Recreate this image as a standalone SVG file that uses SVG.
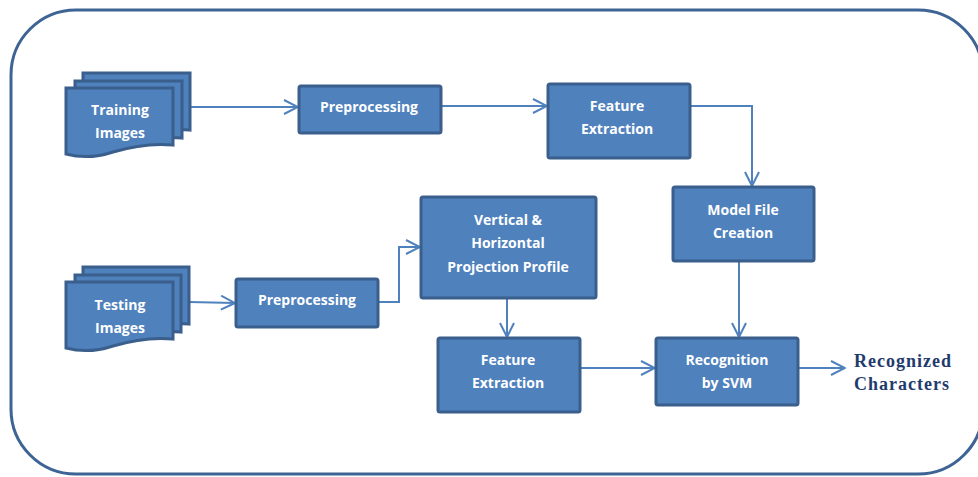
<svg xmlns="http://www.w3.org/2000/svg" width="978" height="477" viewBox="0 0 978 477">
<style>
.box{fill:#4f81bd;stroke:#3a5f8c;stroke-width:3}
.lbl{fill:#ffffff;font-family:"Open Sans","Liberation Sans",sans-serif;font-weight:700;font-size:14px;text-anchor:middle}
.con{fill:none;stroke:#4f81bd;stroke-width:2}
.out{fill:#1f3b6e;font-family:"Liberation Serif",serif;font-weight:700;font-size:18px;letter-spacing:1px}
</style>
<defs>
<marker id="arr" viewBox="0 0 16 16" refX="15" refY="8" markerWidth="16" markerHeight="16" markerUnits="userSpaceOnUse" orient="auto">
<path d="M1,1 L15,8 L1,15" fill="none" stroke="#4f81bd" stroke-width="2"/>
</marker>
</defs>
<rect x="11" y="10" width="972" height="464" rx="65" ry="65" fill="#ffffff" stroke="#3d6494" stroke-width="3"/>
<g id="connectors">
<path class="con" marker-end="url(#arr)" d="M190,107 H298"/>
<path class="con" marker-end="url(#arr)" d="M441,106 H547"/>
<path class="con" marker-end="url(#arr)" d="M690,106 H752 V186"/>
<path class="con" marker-end="url(#arr)" d="M189,302 L235,303"/>
<path class="con" marker-end="url(#arr)" d="M378,302 H399 V247 H420"/>
<path class="con" marker-end="url(#arr)" d="M507,298 V337"/>
<path class="con" marker-end="url(#arr)" d="M580,368 H655"/>
<path class="con" marker-end="url(#arr)" d="M739,261 V337"/>
<path class="con" marker-end="url(#arr)" d="M798,368 H845"/>
</g>
<g id="training">
<path class="box" d="M83,73 H190 V130 C170,128 150,131 130,137 C115,142 98,142 83,139 Z"/>
<path class="box" d="M75,81 H182 V138 C162,136 142,139 122,145 C107,150 90,150 75,147 Z"/>
<path class="box" d="M66,88 H173 V145 C153,143 133,146 113,152 C98,157 81,158 66,154 Z"/>
<text class="lbl" x="120" y="115">Training</text>
<text class="lbl" x="120" y="138">Images</text>
</g>
<g id="testing">
<path class="box" d="M83,267 H189 V324 C169,322 149,325 129,331 C114,336 97,336 83,333 Z"/>
<path class="box" d="M75,275 H181 V332 C161,330 141,333 121,339 C106,344 89,344 75,341 Z"/>
<path class="box" d="M66,282 H173 V339 C153,337 133,340 113,346 C98,351 81,352 66,348 Z"/>
<text class="lbl" x="120" y="310">Testing</text>
<text class="lbl" x="120" y="333">Images</text>
</g>
<g id="preproc1">
<rect class="box" x="299" y="86" width="142" height="47" rx="2"/>
<text class="lbl" x="369" y="112">Preprocessing</text>
</g>
<g id="feature1">
<rect class="box" x="548" y="84" width="142" height="74" rx="2"/>
<text class="lbl" x="617" y="111">Feature</text>
<text class="lbl" x="617" y="134">Extraction</text>
</g>
<g id="model">
<rect class="box" x="673" y="187" width="141" height="74" rx="2"/>
<text class="lbl" x="743" y="215">Model File</text>
<text class="lbl" x="743" y="238">Creation</text>
</g>
<g id="preproc2">
<rect class="box" x="236" y="279" width="142" height="48" rx="2"/>
<text class="lbl" x="307" y="305">Preprocessing</text>
</g>
<g id="projection">
<rect class="box" x="421" y="197" width="175" height="101" rx="2"/>
<text class="lbl" x="508" y="225">Vertical &amp;</text>
<text class="lbl" x="508" y="248">Horizontal</text>
<text class="lbl" x="508" y="272">Projection Profile</text>
</g>
<g id="feature2">
<rect class="box" x="438" y="338" width="142" height="74" rx="2"/>
<text class="lbl" x="508" y="365">Feature</text>
<text class="lbl" x="508" y="388">Extraction</text>
</g>
<g id="recognition">
<rect class="box" x="656" y="338" width="142" height="67" rx="2"/>
<text class="lbl" x="727" y="365">Recognition</text>
<text class="lbl" x="727" y="388">by SVM</text>
</g>
<g id="result">
<text class="out" x="854" y="367">Recognized</text>
<text class="out" x="854" y="390">Characters</text>
</g>
</svg>
